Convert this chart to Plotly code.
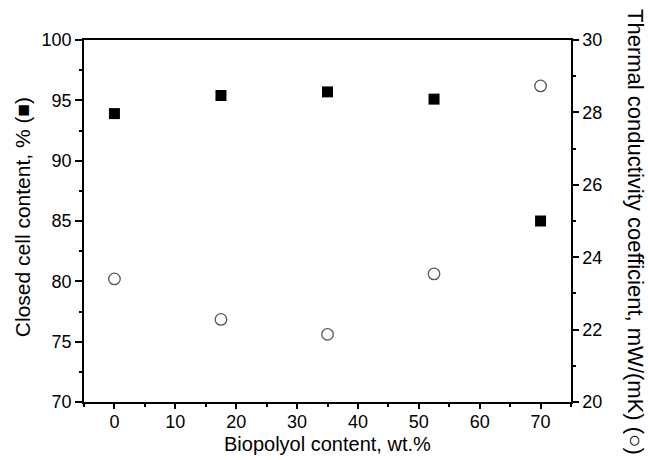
import plotly.graph_objects as go

biopolyol = [0, 17.5, 35, 52.5, 70]
closed_cell = [93.9, 95.4, 95.7, 95.1, 85.0]
thermal_cond = [23.40, 22.28, 21.87, 23.54, 28.73]

FONT = "Liberation Sans, Arial, sans-serif"

fig = go.Figure()
fig.add_trace(go.Scatter(
    x=biopolyol, y=closed_cell, mode="markers",
    marker=dict(symbol="square", size=11, color="black", line=dict(width=0)),
    showlegend=False, yaxis="y"))
fig.add_trace(go.Scatter(
    x=biopolyol, y=thermal_cond, mode="markers",
    marker=dict(symbol="circle", size=11.5, color="white",
                line=dict(color="#555555", width=1.3)),
    showlegend=False, yaxis="y2"))

axis_common = dict(showgrid=False, zeroline=False, showline=True,
                   linecolor="black", linewidth=1.5, ticks="outside",
                   tickcolor="black", tickwidth=1.5, ticklen=7,
                   tickfont=dict(family=FONT, size=18, color="black"))

fig.update_layout(
    width=648, height=460,
    margin=dict(l=84, r=77, t=40, b=58),
    paper_bgcolor="white", plot_bgcolor="white",
    font=dict(family=FONT, color="black"),
    xaxis=dict(range=[-5, 75], dtick=10, tick0=0, mirror=True, ticklabelstandoff=-2,
               minor=dict(dtick=5, ticks="outside", ticklen=3, tickcolor="black", tickwidth=1.5),
               **{**axis_common, "ticklen": 5,
                  "tickfont": dict(family=FONT, size=18, color="black")}),
    yaxis=dict(range=[70, 100], dtick=5, tick0=70,
               minor=dict(dtick=2.5, ticks="outside", ticklen=3, tickcolor="black", tickwidth=1.5),
               **axis_common),
    yaxis2=dict(range=[20, 30], dtick=2, tick0=20, overlaying="y", side="right",
                minor=dict(dtick=1, ticks="outside", ticklen=3, tickcolor="black", tickwidth=1.5),
                **{**axis_common, "ticklen": 6}),
)

fig.add_annotation(text="Biopolyol content, wt.%", xref="paper", yref="paper",
                   x=0.5, y=-0.115, xanchor="center", yanchor="middle",
                   showarrow=False, font=dict(family=FONT, size=20, color="black"))
fig.add_annotation(text="Closed cell content, % (■)", xref="paper", yref="paper",
                   x=-0.127, y=0.511, xanchor="center", yanchor="middle", textangle=-90,
                   showarrow=False, font=dict(family=FONT, size=21, color="black"))
fig.add_annotation(text="Thermal conductivity coefficient, mW/(mK) (○)", xref="paper", yref="paper",
                   x=1.131, y=0.47, xanchor="center", yanchor="middle", textangle=90,
                   showarrow=False, font=dict(family=FONT, size=22, color="black"))

fig.write_html("out.html")
